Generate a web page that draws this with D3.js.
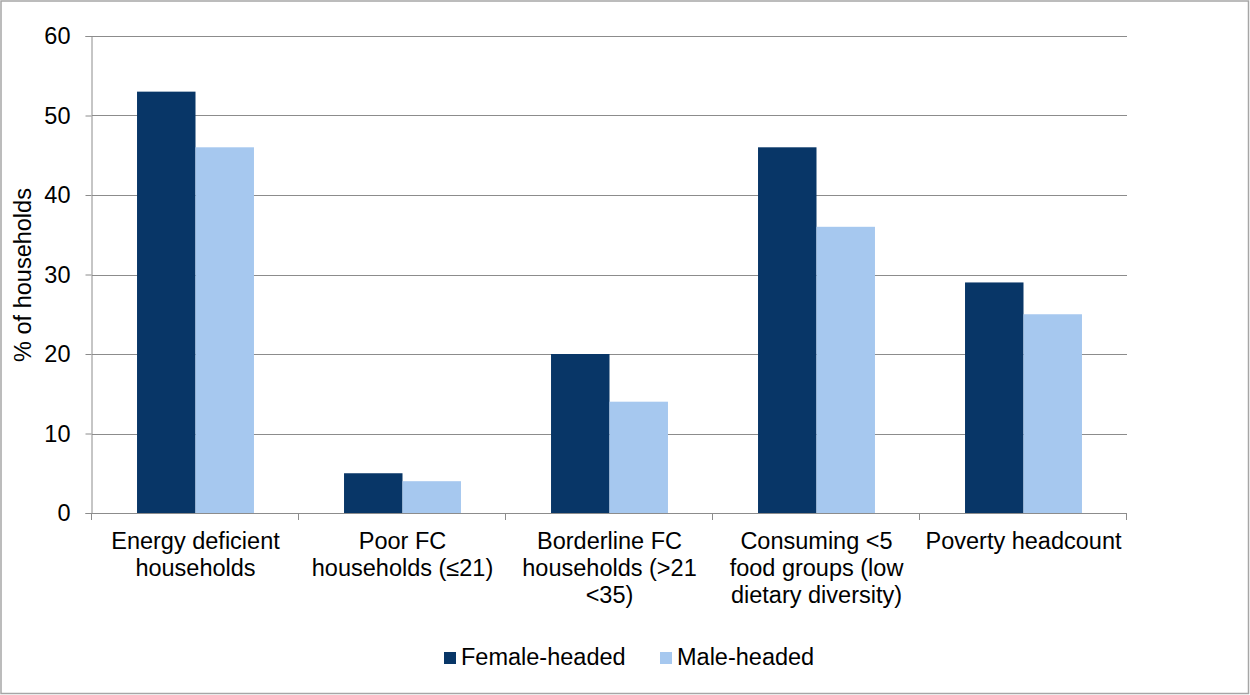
<!DOCTYPE html>
<html>
<head>
<meta charset="utf-8">
<script src="https://cdn.jsdelivr.net/npm/d3@7"></script>
<style>
  html, body { margin: 0; padding: 0; background: #fff; }
  svg { display: block; font-family: "Liberation Sans", Arial, sans-serif; }
</style>
</head>
<body>
<svg id="chart" width="1250" height="695"></svg>
<script>
// Household indicators by sex of household head (%)
const categories = [
  ["Energy deficient", "households"],
  ["Poor FC", "households (\u226421)"],
  ["Borderline FC", "households (>21", "<35)"],
  ["Consuming <5", "food groups (low", "dietary diversity)"],
  ["Poverty headcount"]
];
const seriesNames = ["Female-headed", "Male-headed"];
const femaleValues = [53, 5, 20, 46, 29];
const maleValues = [46, 4, 14, 36, 25];
const yTicks = [0, 10, 20, 30, 40, 50, 60];
const colors = ["#083667", "#A6C8EF"];

const svg = d3.select("#chart");
const W = 1250, H = 695;
const plot = { left: 92, right: 1127, top: 36, bottom: 513 };
const FS = 23.5;

// outer frame
svg.append("rect")
  .attr("x", 1).attr("y", 1).attr("width", W - 2.5).attr("height", H - 2.5)
  .attr("fill", "#fff").attr("stroke", "#a6a6a6").attr("stroke-width", 1.5);

const idx = categories.map((d, i) => i);
const x = d3.scaleBand().domain(idx).range([plot.left, plot.right]).paddingInner(0).paddingOuter(0);
const x1 = d3.scaleBand().domain([0, 1]).range([0, x.bandwidth()]).paddingOuter(0.77).paddingInner(0);
const y = d3.scaleLinear().domain([0, 60]).range([plot.bottom, plot.top]);

// gridlines
svg.append("g").selectAll("line").data(yTicks.filter(t => t > 0)).join("line")
  .attr("x1", plot.left).attr("x2", plot.right)
  .attr("y1", d => Math.round(y(d)) + 0.5).attr("y2", d => Math.round(y(d)) + 0.5)
  .attr("stroke", "#8c8c8c").attr("stroke-width", 1);

// bars
const data = idx.map(i => [femaleValues[i], maleValues[i]]);
const groups = svg.append("g").selectAll("g").data(data).join("g")
  .attr("transform", (d, i) => `translate(${x(i)},0)`);
groups.selectAll("rect").data(d => d).join("rect")
  .attr("x", (d, j) => x1(j))
  .attr("width", x1.bandwidth())
  .attr("y", d => y(d))
  .attr("height", d => y(0) - y(d))
  .attr("fill", (d, j) => colors[j]);

// y axis
const yAxis = d3.axisLeft(y).tickValues(yTicks).tickSize(6).tickPadding(15);
const gy = svg.append("g").attr("transform", `translate(${plot.left - 0.5},0)`).call(yAxis);
gy.attr("font-family", null).attr("font-size", null);
gy.select(".domain").attr("stroke", "#8c8c8c");
gy.selectAll(".tick line").attr("stroke", "#8c8c8c");
gy.selectAll(".tick text").style("font-size", FS + "px").attr("fill", "#000");

// x axis line with category boundary ticks
const gx = svg.append("g");
gx.append("line")
  .attr("x1", plot.left - 6).attr("x2", plot.right)
  .attr("y1", plot.bottom + 0.5).attr("y2", plot.bottom + 0.5)
  .attr("stroke", "#8c8c8c");
const bounds = idx.map(i => x(i)).concat([x(idx.length - 1) + x.bandwidth()]);
gx.selectAll("line.tk").data(bounds).join("line").attr("class", "tk")
  .attr("x1", d => Math.round(d) - 0.5).attr("x2", d => Math.round(d) - 0.5)
  .attr("y1", plot.bottom).attr("y2", plot.bottom + 7)
  .attr("stroke", "#8c8c8c");

// category labels
const labels = gx.selectAll("text.cat").data(categories).join("text").attr("class", "cat")
  .attr("x", (d, i) => x(i) + x.bandwidth() / 2)
  .attr("y", 549)
  .attr("text-anchor", "middle")
  .style("font-size", FS + "px")
  .attr("fill", "#000");
labels.selectAll("tspan").data(d => d).join("tspan")
  .attr("x", function () { return d3.select(this.parentNode).attr("x"); })
  .attr("dy", (d, k) => k === 0 ? 0 : 27)
  .text(d => d);

// y axis title
svg.append("text")
  .attr("transform", "translate(31,275) rotate(-90)")
  .attr("text-anchor", "middle")
  .style("font-size", FS + "px")
  .attr("fill", "#000")
  .text("% of households");

// legend
const legendItems = [
  { name: seriesNames[0], color: colors[0], x: 444 },
  { name: seriesNames[1], color: colors[1], x: 660 }
];
const lg = svg.append("g").selectAll("g").data(legendItems).join("g")
  .attr("transform", d => `translate(${d.x},652)`);
lg.append("rect").attr("width", 12).attr("height", 12).attr("fill", d => d.color);
lg.append("text").attr("x", 17).attr("y", 12.5)
  .style("font-size", FS + "px").attr("fill", "#000")
  .text(d => d.name);
</script>
</body>
</html>
